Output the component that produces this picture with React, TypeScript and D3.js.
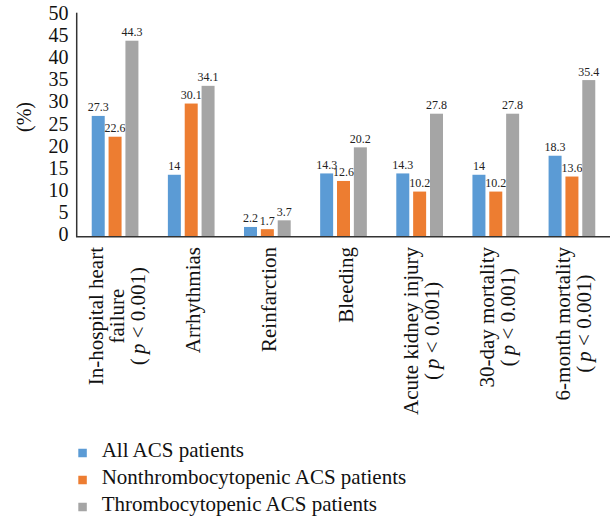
import React from "react";
import * as d3 from "d3";

const categories = [
  "In-hospital heart failure",
  "Arrhythmias",
  "Reinfarction",
  "Bleeding",
  "Acute kidney injury",
  "30-day mortality",
  "6-month mortality",
];
const categoryLines: string[][] = [
  ["In-hospital heart", "failure", "(p < 0.001)"],
  ["Arrhythmias"],
  ["Reinfarction"],
  ["Bleeding"],
  ["Acute kidney injury", "(p < 0.001)"],
  ["30-day mortality", "(p < 0.001)"],
  ["6-month mortality", "(p < 0.001)"],
];
const seriesNames = [
  "All ACS patients",
  "Nonthrombocytopenic ACS patients",
  "Thrombocytopenic ACS patients",
];
const allACS = [27.3, 14, 2.2, 14.3, 14.3, 14, 18.3];
const nonThrombo = [22.6, 30.1, 1.7, 12.6, 10.2, 10.2, 13.6];
const thrombo = [44.3, 34.1, 3.7, 20.2, 27.8, 27.8, 35.4];
const seriesValues = [allACS, nonThrombo, thrombo];
const colors = ["#5B9BD5", "#ED7D31", "#A5A5A5"];
const yTicks = [0, 5, 10, 15, 20, 25, 30, 35, 40, 45, 50];

const W = 613;
const H = 518;
const FONT = "'Liberation Serif', Tinos, 'Times New Roman', Times, serif";
const CAT_FS = 21;

function measure(text: string, size: number): number {
  if (typeof document === "undefined") return text.length * size * 0.45;
  const c = document.createElement("canvas");
  const ctx = c.getContext("2d");
  if (!ctx) return text.length * size * 0.45;
  ctx.font = `${size}px 'Liberation Serif', serif`;
  return ctx.measureText(text).width;
}

function LineText({ text }: { text: string }) {
  if (text.startsWith("(p")) {
    return (
      <>
        {"(\u2009"}
        <tspan style={{ fontStyle: "italic" }}>p</tspan>
        {text.slice(2)}
      </>
    );
  }
  return <>{text}</>;
}

export default function App() {
  const x = d3.scaleBand<string>().domain(categories).range([77, 610]).padding(0);
  const inner = d3
    .scaleBand<string>()
    .domain(seriesNames)
    .range([0, x.bandwidth()])
    .paddingInner(0.229)
    .paddingOuter(0.874);
  const y = d3.scaleLinear().domain([0, 50]).range([236.7, 15.5]);

  const legendY = d3.scalePoint<string>().domain(seriesNames).range([453, 507]);
  const ts = { fontFamily: FONT };

  return (
    <svg
      width={W}
      height={H}
      style={{ position: "absolute", left: 0, top: 0, background: "#fff", fontFamily: FONT }}
    >
      <rect x={0} y={0} width={W} height={H} fill="#fff" />
      {/* bars */}
      {categories.map((c, i) => (
        <g key={c} transform={`translate(${x(c)},0)`}>
          {seriesNames.map((s, j) => {
            const v = seriesValues[j][i];
            const bx = inner(s) as number;
            return (
              <g key={s}>
                <rect
                  x={bx}
                  y={y(v)}
                  width={inner.bandwidth()}
                  height={y(0) - y(v)}
                  fill={colors[j]}
                />
                <text
                  x={bx + inner.bandwidth() / 2}
                  y={y(v) - 4.5}
                  textAnchor="middle"
                  fontSize={12}
                  fill="#222"
                  style={ts}
                >
                  {String(v)}
                </text>
              </g>
            );
          })}
        </g>
      ))}
      {/* axes */}
      <line x1={76.7} x2={76.7} y1={12.7} y2={y(0)} stroke="#333" strokeWidth={1.5} />
      <line x1={76} x2={610} y1={y(0)} y2={y(0)} stroke="#333" strokeWidth={1.5} />
      {yTicks.map((t) => (
        <text key={t} x={68.5} y={y(t) + 4.5} textAnchor="end" fontSize={20} fill="#111" style={ts}>
          {t}
        </text>
      ))}
      <text
        transform={`translate(31,117) rotate(-90)`}
        textAnchor="middle"
        fontSize={20}
        fill="#111"
        style={ts}
      >
        (%)
      </text>
      {/* category labels */}
      {categories.map((c, i) => {
        const lines = categoryLines[i];
        const maxLen = d3.max(lines, (l) => measure(l, CAT_FS)) as number;
        const cy = 247 + maxLen / 2;
        const cx = (x(c) as number) + x.bandwidth() / 2 + 9;
        const spacing = 21;
        return (
          <g key={c}>
            {lines.map((l, k) => {
              const bx = cx + (k - (lines.length - 1) / 2) * spacing;
              return (
                <text
                  key={k}
                  transform={`translate(${bx},${cy}) rotate(-90)`}
                  textAnchor="middle"
                  fontSize={CAT_FS}
                  fill="#111"
                  style={ts}
                >
                  <LineText text={l} />
                </text>
              );
            })}
          </g>
        );
      })}
      {/* legend */}
      {seriesNames.map((s, j) => (
        <g key={s}>
          <rect
            x={78.3}
            y={(legendY(s) as number) - 4.25}
            width={8.5}
            height={8.5}
            fill={colors[j]}
          />
          <text x={101.7} y={(legendY(s) as number) + 4} fontSize={21} fill="#111" style={ts}>
            {s}
          </text>
        </g>
      ))}
    </svg>
  );
}
